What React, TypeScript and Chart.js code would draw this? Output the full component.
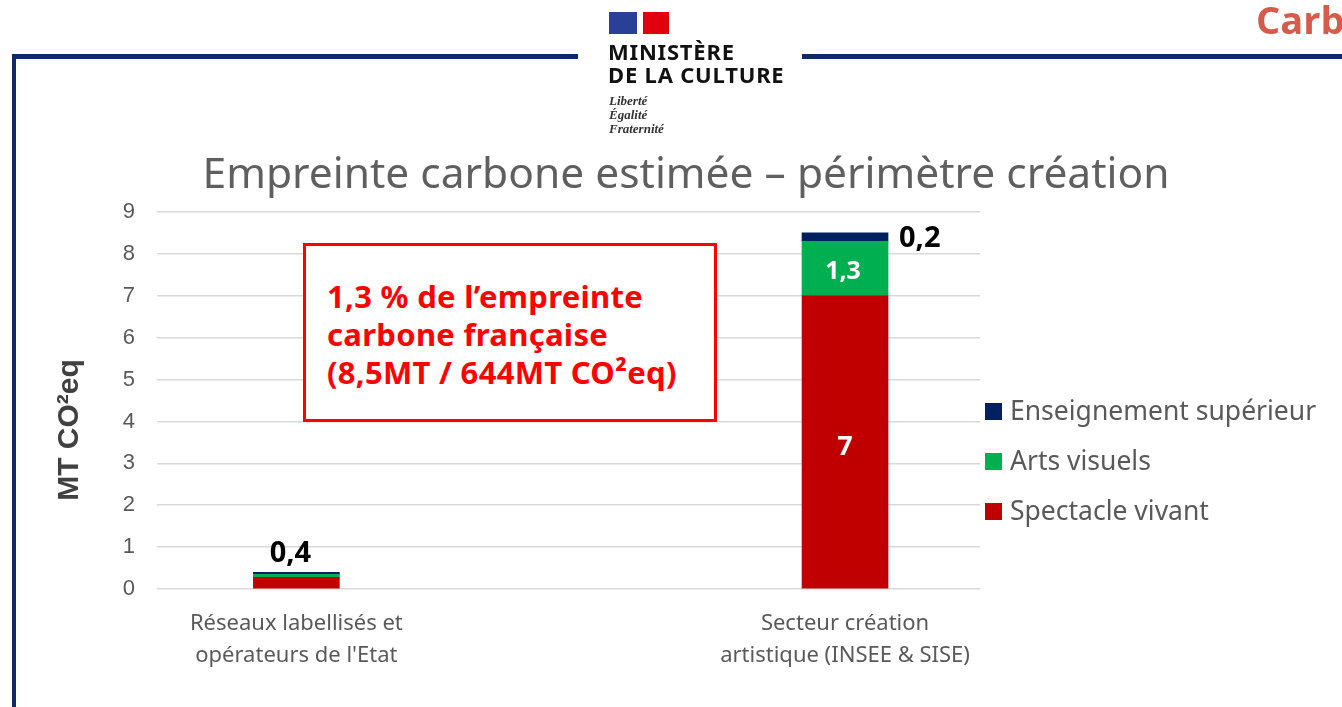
import React, { useEffect, useRef } from "react";
import { Chart, registerables } from "chart.js";

Chart.register(...registerables);

// ---- data ----
const categories: string[][] = [
  ["Réseaux labellisés et", "opérateurs de l'Etat"],
  ["Secteur création", "artistique (INSEE & SISE)"],
];
const categoryPositions = [0, 1];
const spectacleVivant = [0.28, 7];
const artsVisuels = [0.07, 1.3];
const enseignementSup = [0.05, 0.2];
const spectacleLabels = ["", "7"];
const artsLabels = ["", "1,3"];
const enseignementLabels = ["", "0,2"];
const totalLabels = ["0,4", ""];
const seriesNames = ["Spectacle vivant", "Arts visuels", "Enseignement supérieur"];
const seriesColors = ["#c00000", "#00b050", "#002060"];
const yMin = 0;
const yMax = 9;

const chartTitle = "Empreinte carbone estimée – périmètre création";
const yAxisTitle = "MT CO²eq";

const GRAY = "#595959";

const labelsPlugin = {
  id: "customText",
  afterDraw(chart: any) {
    const ctx = chart.ctx as CanvasRenderingContext2D;
    const area = chart.chartArea;
    ctx.save();
    // Title
    ctx.fillStyle = "#5f5f5f";
    ctx.font = '42.5px "Noto Sans"';
    ctx.textAlign = "center";
    ctx.textBaseline = "middle";
    ctx.fillText(chartTitle, 686, 176);

    // Y axis title
    ctx.save();
    ctx.translate(70, 430);
    ctx.rotate(-Math.PI / 2);
    ctx.fillStyle = "#404040";
    ctx.font = 'bold 30px "Liberation Sans"';
    ctx.textAlign = "center";
    ctx.textBaseline = "middle";
    ctx.fillText(yAxisTitle, 0, 0);
    ctx.restore();

    // Legend (reversed order)
    const order = [2, 1, 0];
    order.forEach((dsIndex, k) => {
      const ds = chart.data.datasets[dsIndex];
      const cy = 411.5 + k * 50;
      const x0 = area.right + 5;
      ctx.fillStyle = ds.backgroundColor;
      ctx.fillRect(x0, cy - 8.5, 17, 17);
      ctx.fillStyle = GRAY;
      ctx.font = '26.5px "Noto Sans"';
      ctx.textAlign = "left";
      ctx.textBaseline = "middle";
      ctx.fillText(ds.label, x0 + 25, cy + 1);
    });

    // Data labels
    const metaS = chart.getDatasetMeta(0);
    const metaA = chart.getDatasetMeta(1);
    const metaE = chart.getDatasetMeta(2);
    ctx.textBaseline = "middle";
    categoryPositions.forEach((_, j) => {
      const s = metaS.data[j];
      const a = metaA.data[j];
      const e = metaE.data[j];
      if (spectacleLabels[j]) {
        ctx.fillStyle = "#ffffff";
        ctx.font = 'bold 27px "Noto Sans"';
        ctx.textAlign = "center";
        ctx.fillText(spectacleLabels[j], s.x, (s.y + s.base) / 2 + 5);
      }
      if (artsLabels[j]) {
        ctx.fillStyle = "#ffffff";
        ctx.font = 'bold 25px "Noto Sans"';
        ctx.textAlign = "center";
        ctx.fillText(artsLabels[j], a.x - 2, (a.y + a.base) / 2 + 3);
      }
      if (enseignementLabels[j]) {
        ctx.fillStyle = "#000000";
        ctx.font = 'bold 29px "Noto Sans"';
        ctx.textAlign = "left";
        ctx.fillText(enseignementLabels[j], e.x + e.width / 2 + 11, e.y + 6);
      }
      if (totalLabels[j]) {
        ctx.fillStyle = "#000000";
        ctx.font = 'bold 29px "Noto Sans"';
        ctx.textAlign = "center";
        ctx.fillText(totalLabels[j], e.x - 6, e.y - 19);
      }
    });
    ctx.restore();
  },
};

export default function App() {
  const canvasRef = useRef<HTMLCanvasElement | null>(null);

  useEffect(() => {
    if (!canvasRef.current) return;
    const seriesData = [spectacleVivant, artsVisuels, enseignementSup];
    const chart = new Chart(canvasRef.current, {
      type: "bar",
      data: {
        datasets: seriesData.map((values, i) => ({
          label: seriesNames[i],
          data: categoryPositions.map((x, j) => ({ x, y: values[j] })),
          backgroundColor: seriesColors[i],
          borderWidth: 0,
          barThickness: 86,
        })),
      },
      options: {
        responsive: false,
        animation: false,
        devicePixelRatio: 1,
        layout: { padding: { left: 40, right: 362, top: 212, bottom: 38 } },
        plugins: {
          legend: { display: false },
          title: { display: false },
          tooltip: { enabled: false },
        },
        scales: {
          x: {
            type: "linear",
            stacked: true,
            min: -0.254,
            max: 1.246,
            offset: false,
            grid: { display: false, drawTicks: false },
            border: { display: false },
            afterBuildTicks: (axis: any) => {
              axis.ticks = categoryPositions.map((v) => ({ value: v }));
            },
            afterFit: (s: any) => {
              s.height = 80;
            },
            ticks: {
              autoSkip: false,
              maxRotation: 0,
              padding: 19,
              color: GRAY,
              font: { family: '"Noto Sans"', size: 22, lineHeight: 1.45 },
              callback: (_v: any, index: number) => categories[index],
            },
          },
          y: {
            stacked: true,
            min: yMin,
            max: yMax,
            grid: { color: "#d9d9d9", lineWidth: 1.5, drawTicks: false },
            border: { display: false },
            afterFit: (s: any) => {
              s.width = 117;
            },
            ticks: {
              stepSize: 1,
              padding: 22,
              color: GRAY,
              font: { family: '"Liberation Sans"', size: 22 },
            },
          },
        },
      },
      plugins: [labelsPlugin],
    });
    return () => chart.destroy();
  }, []);

  const navy = "#0c2a66";
  return (
    <div
      style={{
        position: "absolute",
        left: 0,
        top: 0,
        width: 1342,
        height: 707,
        overflow: "hidden",
        background: "#ffffff",
      }}
    >
      <canvas
        ref={canvasRef}
        width={1342}
        height={707}
        style={{ position: "absolute", left: 0, top: 0, width: 1342, height: 707 }}
      />
      {/* frame */}
      <div style={{ position: "absolute", left: 12, top: 54, width: 566, height: 5, background: navy }} />
      <div style={{ position: "absolute", left: 802, top: 54, width: 540, height: 5, background: navy }} />
      <div style={{ position: "absolute", left: 12, top: 54, width: 4, height: 653, background: navy }} />
      {/* logo */}
      <div style={{ position: "absolute", left: 609, top: 12, width: 28, height: 22, background: "#2a3f96" }} />
      <div style={{ position: "absolute", left: 643, top: 12, width: 26, height: 22, background: "#e1000f" }} />
      <div
        style={{
          position: "absolute",
          left: 608,
          top: 40,
          fontFamily: '"Noto Sans"',
          fontWeight: 700,
          fontSize: 22,
          lineHeight: "23px",
          letterSpacing: "0.8px",
          color: "#111111",
          whiteSpace: "nowrap",
        }}
      >
        MINISTÈRE
        <br />
        DE LA CULTURE
      </div>
      <div
        style={{
          position: "absolute",
          left: 609,
          top: 94,
          fontFamily: '"Liberation Serif"',
          fontStyle: "italic",
          fontWeight: 700,
          fontSize: 13,
          lineHeight: "14px",
          color: "#333333",
          whiteSpace: "nowrap",
        }}
      >
        Liberté
        <br />
        Égalité
        <br />
        Fraternité
      </div>
      <div
        style={{
          position: "absolute",
          left: 1256,
          top: -6,
          fontFamily: '"Open Sans"',
          fontWeight: 700,
          fontSize: 38,
          lineHeight: "50px",
          color: "#d55b4b",
          whiteSpace: "nowrap",
        }}
      >
        Carb
      </div>
      {/* annotation box */}
      <div
        style={{
          position: "absolute",
          left: 303,
          top: 243,
          width: 414,
          height: 179,
          boxSizing: "border-box",
          border: "3px solid #ff0000",
          background: "#ffffff",
          paddingLeft: 21,
          paddingTop: 31,
          fontFamily: '"Noto Sans"',
          fontWeight: 700,
          fontSize: 31,
          lineHeight: "38px",
          letterSpacing: "0.3px",
          color: "#ff0000",
          whiteSpace: "nowrap",
        }}
      >
        1,3 % de l’empreinte
        <br />
        carbone française
        <br />
        (8,5MT / 644MT CO²eq)
      </div>
    </div>
  );
}
